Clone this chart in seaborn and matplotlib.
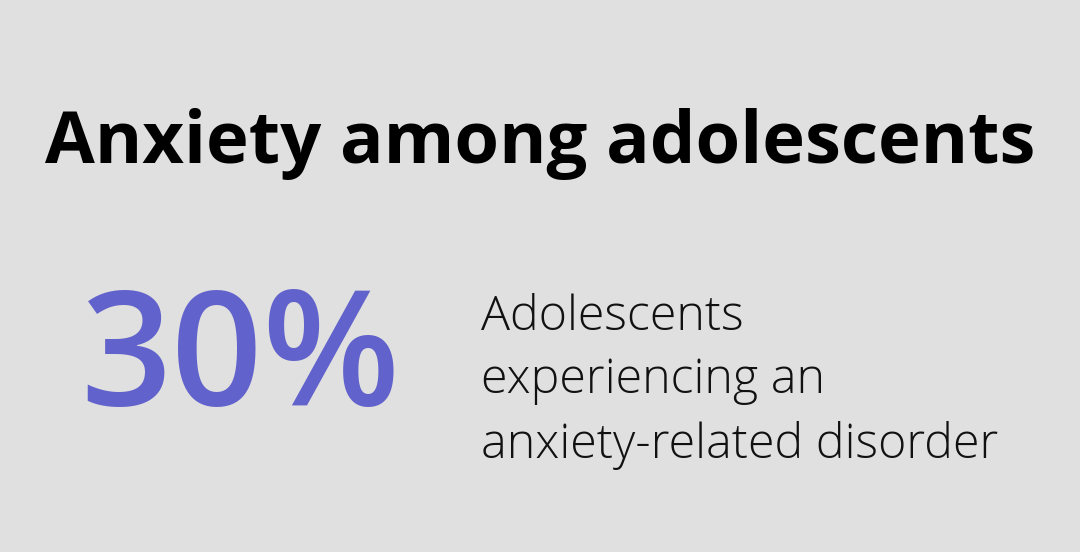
import matplotlib.pyplot as plt
import seaborn as sns

# ── Contenido ─────────────────────────────────────────────────────────────────
title = "Anxiety among adolescents"
stat_value = 30
stat_unit = "%"
description_lines = ["Adolescents", "experiencing an", "anxiety-related disorder"]

BG = "#dfe0df"
ACCENT = "#6262cc"

sns.set_theme(style="white")
plt.rcParams["font.family"] = ["Open Sans", "DejaVu Sans"]

fig = plt.figure(figsize=(10.8, 5.52), dpi=100)
fig.patch.set_facecolor(BG)
ax = fig.add_axes([0, 0, 1, 1])
ax.set_xlim(0, 1080)
ax.set_ylim(552, 0)
ax.axis("off")

ax.text(540, 163, title, ha="center", va="baseline", fontsize=52,
        fontweight="bold", color="black")

ax.text(240, 405, f"{stat_value}{stat_unit}", ha="center", va="baseline",
        fontsize=115, fontweight="semibold", color=ACCENT)

# va="baseline" en texto multilínea ancla la última línea
ax.text(481, 458, "\n".join(description_lines), ha="left", va="baseline",
        fontsize=34.8, fontweight="light", color="#111111", linespacing=1.42)

fig.savefig("out.png", dpi=100, facecolor=BG)
